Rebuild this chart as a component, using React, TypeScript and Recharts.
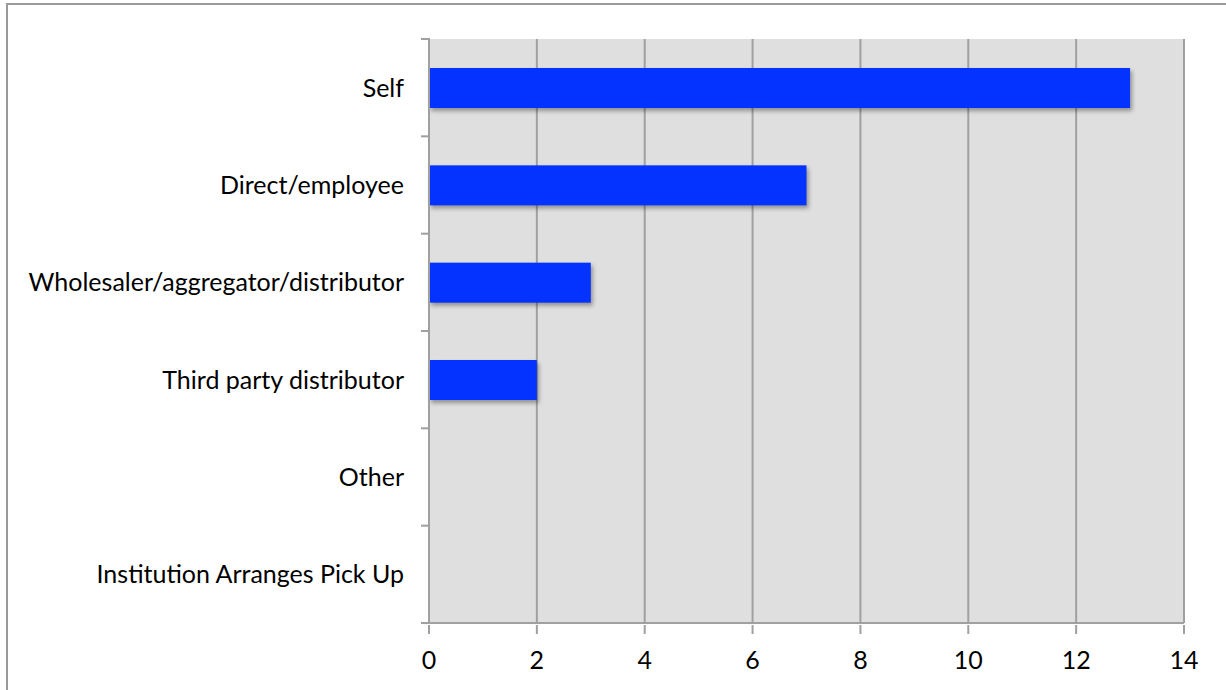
import React from 'react';
import { BarChart, Bar, XAxis, YAxis, CartesianGrid } from 'recharts';

const categories = [
  'Self',
  'Direct/employee',
  'Wholesaler/aggregator/distributor',
  'Third party distributor',
  'Other',
  'Institution Arranges Pick Up',
];
const values = [13, 7, 3, 2, 0, 0];
const xTicks = [0, 2, 4, 6, 8, 10, 12, 14];

const data = categories.map((name, i) => ({ name, value: values[i] }));

const FONT = 'Lato, "Noto Sans", sans-serif';
const FS = 25;
const GRID = '#a0a0a0';

const YTick = (props: any) => {
  const { x, y, payload, index } = props;
  const band = 584 / categories.length;
  const ax = x + 9;
  const top = y - band / 2;
  const bottom = y + band / 2;
  return (
    <g>
      <line x1={ax - 9} x2={ax} y1={top} y2={top} stroke={GRID} strokeWidth={2} />
      {index === categories.length - 1 && (
        <line x1={ax - 9} x2={ax} y1={bottom} y2={bottom} stroke={GRID} strokeWidth={2} />
      )}
      <text x={ax - 26} y={y + 9} textAnchor="end" fontFamily={FONT} fontSize={FS} fill="#000">
        {payload.value}
      </text>
    </g>
  );
};

const XTick = (props: any) => {
  const { x, y, payload } = props;
  return (
    <g>
      <line x1={x} x2={x} y1={y - 9} y2={y} stroke={GRID} strokeWidth={2} />
      <text x={x} y={y + 35} textAnchor="middle" fontFamily={FONT} fontSize={FS} fill="#000">
        {payload.value}
      </text>
    </g>
  );
};

const ShadowBar = (props: any) => {
  const { x, y, width, height, fill } = props;
  if (!width || width <= 0) return null;
  return (
    <rect
      x={x}
      y={y}
      width={width}
      height={height}
      fill={fill}
      style={{ filter: 'drop-shadow(2px 3px 2px rgba(0,0,0,0.35))' }}
    />
  );
};

export default function App() {
  return (
    <div style={{ position: 'absolute', left: 0, top: 0, width: 1226, height: 690, overflow: 'hidden', background: '#fff' }}>
      <div
        style={{
          position: 'absolute',
          left: 6,
          top: 3,
          width: 1400,
          height: 900,
          borderLeft: '2px solid #9a9a9a',
          borderTop: '2px solid #9a9a9a',
        }}
      />
      <div style={{ position: 'absolute', left: 0, top: 0 }}>
        <BarChart
          width={1226}
          height={690}
          data={data}
          layout="vertical"
          margin={{ top: 39, right: 42, bottom: 27, left: 0 }}
          barCategoryGap={28}
        >
          <CartesianGrid horizontal={false} vertical={true} fill="#dfdfdf" stroke={GRID} strokeWidth={2} />
          <XAxis
            type="number"
            domain={[0, 14]}
            ticks={xTicks}
            interval={0}
            height={40}
            axisLine={{ stroke: GRID, strokeWidth: 2 }}
            tickLine={false}
            tick={<XTick />}
            tickSize={9}
          />
          <YAxis
            type="category"
            dataKey="name"
            width={429}
            axisLine={{ stroke: GRID, strokeWidth: 2 }}
            tickLine={false}
            tick={<YTick />}
            interval={0}
          />
          <Bar dataKey="value" fill="#0433ff" barSize={40} isAnimationActive={false} shape={<ShadowBar />} />
        </BarChart>
      </div>
    </div>
  );
}
